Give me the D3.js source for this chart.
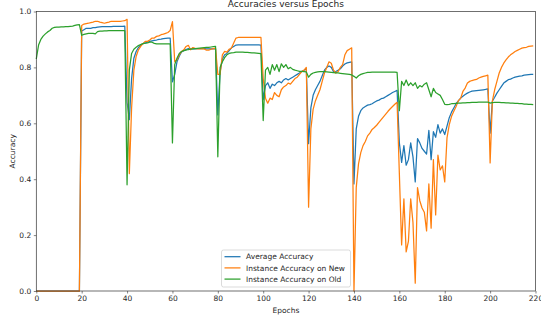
<!DOCTYPE html>
<html>
<head>
<meta charset="utf-8">
<script src="https://cdn.jsdelivr.net/npm/d3@7"></script>
<style>
  body { margin: 0; background: #fff; }
  text { font-family: "DejaVu Sans", sans-serif; fill: #262626; }
</style>
</head>
<body>
<figure id="chart" style="margin:0"></figure>
<script>
// per-epoch values, epochs 0..219
const avgAcc = [
  0,0,0,0,0,0,0,0,0,0,0,0,0,0,0,0,0,0,0,0,
  0.93,0.935,0.94,0.94,0.94,0.942,0.942,0.944,0.945,0.946,0.946,0.946,0.946,0.946,0.947,0.947,0.947,0.947,0.947,0.948,
  0.675,0.613,0.76,0.833,0.857,0.871,0.88,0.885,0.887,0.89,0.893,0.895,0.897,0.898,0.9,0.901,0.903,0.904,0.905,0.905,
  0.748,0.775,0.82,0.84,0.855,0.86,0.864,0.867,0.866,0.866,0.866,0.867,0.867,0.867,0.867,0.866,0.866,0.866,0.866,0.866,
  0.63,0.785,0.83,0.845,0.85,0.86,0.87,0.875,0.88,0.881,0.881,0.881,0.881,0.881,0.881,0.881,0.881,0.881,0.881,0.88,
  0.685,0.735,0.745,0.725,0.74,0.735,0.745,0.75,0.745,0.755,0.76,0.755,0.76,0.765,0.77,0.775,0.78,0.785,0.79,0.795,
  0.527,0.655,0.7,0.72,0.735,0.75,0.77,0.79,0.8,0.805,0.8,0.785,0.785,0.79,0.795,0.805,0.812,0.816,0.818,0.82,
  0.383,0.58,0.625,0.645,0.655,0.66,0.665,0.667,0.67,0.675,0.68,0.683,0.688,0.69,0.695,0.7,0.705,0.71,0.714,0.718,
  0.53,0.46,0.52,0.45,0.47,0.53,0.48,0.39,0.545,0.53,0.51,0.5,0.49,0.575,0.47,0.57,0.55,0.595,0.565,0.58,
  0.56,0.59,0.62,0.64,0.655,0.67,0.68,0.69,0.697,0.703,0.708,0.712,0.715,0.716,0.717,0.718,0.719,0.72,0.721,0.723,
  0.565,0.679,0.693,0.708,0.72,0.732,0.744,0.75,0.756,0.758,0.762,0.765,0.767,0.769,0.77,0.772,0.773,0.774,0.775,0.775
];
const newAcc = [
  0,0,0,0,0,0,0,0,0,0,0,0,0,0,0,0,0,0,0,0,
  0.95,0.955,0.957,0.958,0.96,0.962,0.965,0.965,0.962,0.96,0.958,0.96,0.962,0.965,0.965,0.965,0.965,0.965,0.966,0.967,
  0.972,0.42,0.655,0.79,0.839,0.863,0.875,0.885,0.893,0.893,0.898,0.905,0.905,0.911,0.913,0.917,0.919,0.922,0.925,0.932,
  0.964,0.82,0.827,0.845,0.857,0.863,0.875,0.879,0.863,0.871,0.868,0.866,0.866,0.867,0.866,0.862,0.862,0.865,0.867,0.868,
  0.775,0.775,0.845,0.857,0.855,0.865,0.869,0.887,0.905,0.907,0.907,0.907,0.907,0.907,0.907,0.907,0.907,0.907,0.907,0.907,
  0.76,0.69,0.672,0.69,0.685,0.71,0.7,0.695,0.72,0.73,0.735,0.744,0.74,0.75,0.76,0.765,0.775,0.785,0.79,0.8,
  0.3,0.58,0.65,0.68,0.7,0.72,0.75,0.78,0.8,0.82,0.815,0.79,0.78,0.785,0.8,0.81,0.845,0.86,0.865,0.87,
  0.0,0.37,0.455,0.495,0.52,0.535,0.555,0.565,0.578,0.585,0.593,0.603,0.613,0.623,0.633,0.643,0.652,0.66,0.668,0.675,
  0.42,0.165,0.33,0.14,0.178,0.33,0.245,0.028,0.37,0.323,0.297,0.282,0.215,0.383,0.225,0.47,0.272,0.486,0.433,0.448,
  0.39,0.548,0.595,0.625,0.643,0.66,0.681,0.689,0.714,0.726,0.744,0.75,0.753,0.755,0.757,0.762,0.765,0.768,0.77,0.772,
  0.458,0.68,0.72,0.75,0.78,0.8,0.815,0.827,0.837,0.845,0.851,0.857,0.861,0.865,0.869,0.871,0.872,0.875,0.876,0.877
];
const oldAcc = [
  0.83,0.88,0.9,0.912,0.92,0.927,0.932,0.94,0.943,0.944,0.944,0.945,0.945,0.946,0.946,0.947,0.948,0.95,0.952,0.953,
  0.915,0.918,0.92,0.922,0.922,0.922,0.92,0.928,0.93,0.93,0.931,0.931,0.932,0.932,0.932,0.932,0.932,0.932,0.932,0.932,
  0.38,0.79,0.85,0.865,0.872,0.878,0.882,0.885,0.887,0.888,0.89,0.89,0.886,0.884,0.884,0.884,0.884,0.884,0.884,0.884,
  0.53,0.81,0.833,0.85,0.857,0.86,0.862,0.864,0.865,0.866,0.867,0.868,0.869,0.87,0.871,0.872,0.872,0.873,0.874,0.875,
  0.48,0.8,0.82,0.835,0.845,0.85,0.852,0.853,0.855,0.855,0.855,0.855,0.854,0.854,0.853,0.852,0.852,0.851,0.85,0.849,
  0.61,0.79,0.8,0.775,0.81,0.79,0.81,0.785,0.813,0.8,0.81,0.795,0.8,0.793,0.79,0.788,0.786,0.786,0.785,0.784,
  0.765,0.775,0.78,0.782,0.784,0.785,0.785,0.785,0.784,0.783,0.782,0.781,0.78,0.78,0.779,0.778,0.777,0.776,0.775,0.773,
  0.768,0.762,0.77,0.775,0.778,0.78,0.782,0.782,0.783,0.783,0.783,0.783,0.783,0.783,0.783,0.783,0.783,0.783,0.783,0.782,
  0.645,0.75,0.735,0.755,0.735,0.745,0.735,0.745,0.725,0.735,0.73,0.74,0.745,0.72,0.695,0.725,0.71,0.705,0.7,0.685,
  0.668,0.667,0.668,0.67,0.67,0.671,0.672,0.672,0.673,0.673,0.674,0.674,0.675,0.675,0.675,0.676,0.676,0.676,0.676,0.676,
  0.672,0.674,0.675,0.675,0.675,0.674,0.674,0.673,0.673,0.672,0.672,0.671,0.671,0.67,0.67,0.669,0.669,0.668,0.668,0.667
];

const seriesNames = ["Average Accuracy", "Instance Accuracy on New", "Instance Accuracy on Old"];
const seriesColors = ["#1f77b4", "#ff7f0e", "#2ca02c"];
const xTicks = [0, 20, 40, 60, 80, 100, 120, 140, 160, 180, 200, 220];
const yTicks = [0.0, 0.2, 0.4, 0.6, 0.8, 1.0];

const W = 541, H = 320;
const margin = { left: 36.3, right: 5.5, top: 11.5, bottom: 29 };
const width = W - margin.left - margin.right;
const height = H - margin.top - margin.bottom;

const svg = d3.select("figure#chart")
  .append("svg")
  .attr("width", W)
  .attr("height", H);

const g = svg.append("g")
  .attr("transform", "translate(" + margin.left + "," + margin.top + ")");

const x = d3.scaleLinear().domain([0, 220]).range([0, width]);
const y = d3.scaleLinear().domain([0, 1]).range([height, 0]);

// lines, drawn in matplotlib order so green ends up on top
const line = d3.line()
  .x((d, i) => x(i))
  .y(d => y(d));

[avgAcc, newAcc, oldAcc].forEach((s, k) => {
  g.append("path")
    .datum(s)
    .attr("fill", "none")
    .attr("stroke", seriesColors[k])
    .attr("stroke-width", 1.25)
    .attr("stroke-linejoin", "round")
    .attr("d", line);
});

// axes
const xAxis = g.append("g")
  .attr("transform", "translate(0," + height + ")")
  .call(d3.axisBottom(x).tickValues(xTicks).tickSize(2.5).tickPadding(2.5).tickFormat(d3.format("d")));
const yAxis = g.append("g")
  .call(d3.axisLeft(y).tickValues(yTicks).tickSize(2.5).tickPadding(2.5).tickFormat(d3.format(".1f")));

[xAxis, yAxis].forEach(a => {
  a.select(".domain").remove();
  a.selectAll("line").attr("stroke", "#333").attr("stroke-width", 0.6);
  a.selectAll("text").style("font-size", "7.5px").attr("fill", "#262626");
});

// frame
g.append("rect")
  .attr("width", width)
  .attr("height", height)
  .attr("fill", "none")
  .attr("stroke", "#333")
  .attr("stroke-width", 0.7);

// title and axis labels
svg.append("text")
  .attr("x", margin.left + width / 2)
  .attr("y", 7.3)
  .attr("text-anchor", "middle")
  .style("font-size", "9px")
  .text("Accuracies versus Epochs");

svg.append("text")
  .attr("x", margin.left + width / 2)
  .attr("y", 313)
  .attr("text-anchor", "middle")
  .style("font-size", "7.5px")
  .text("Epochs");

svg.append("text")
  .attr("transform", "translate(14.5," + (margin.top + height / 2) + ") rotate(-90)")
  .attr("text-anchor", "middle")
  .style("font-size", "7.5px")
  .text("Accuracy");

// legend
const legend = svg.append("g").attr("transform", "translate(221.5,250)");
legend.append("rect")
  .attr("width", 129)
  .attr("height", 37)
  .attr("rx", 2)
  .attr("fill", "#fff")
  .attr("fill-opacity", 0.8)
  .attr("stroke", "#cccccc")
  .attr("stroke-width", 0.7);

seriesNames.forEach((name, k) => {
  const row = legend.append("g").attr("transform", "translate(0," + (6.7 + k * 11.2) + ")");
  row.append("line")
    .attr("x1", 3).attr("x2", 19)
    .attr("stroke", seriesColors[k])
    .attr("stroke-width", 1.25);
  row.append("text")
    .attr("x", 24.5)
    .attr("y", 2.7)
    .style("font-size", "7.5px")
    .text(name);
});
</script>
</body>
</html>
